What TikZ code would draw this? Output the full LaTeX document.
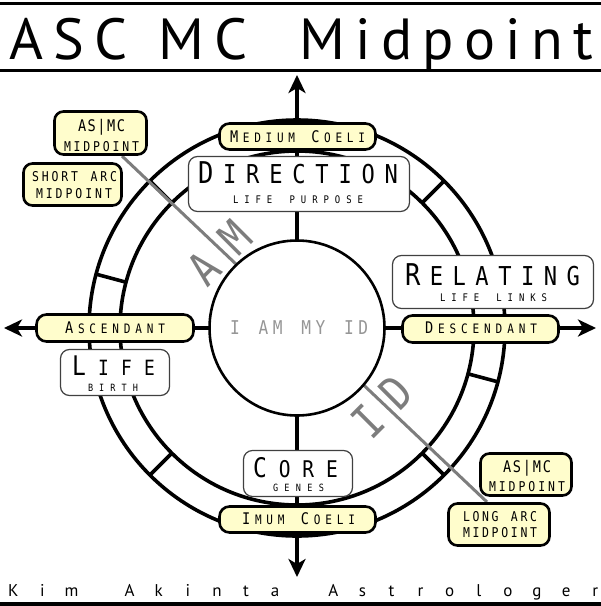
\documentclass[tikz,border=0pt]{standalone}
\usepackage{fontspec}
\usetikzlibrary{arrows.meta}
\newfontfamily\monof[FakeStretch=0.85]{DejaVu Sans Mono}
\newfontfamily\titlefont{PT Sans}
\definecolor{ylw}{RGB}{255,253,204}
\definecolor{gry}{RGB}{125,125,125}
\definecolor{lgry}{RGB}{150,150,150}
\newcommand\fsz[1]{\fontsize{#1}{#1}\selectfont}
\makeatletter
\def\lsp#1{#1\lsp@a}
\def\lsp@a#1{\ifx\relax#1\else\hfil#1\expandafter\lsp@a\fi}
\makeatother
\newcommand\spr[2]{\makebox[#1][s]{\lsp#2\relax}}
\newcommand\fcell[1]{\makebox[29.1pt]{#1}}
\begin{document}
\begin{tikzpicture}[x=1pt,y=-1pt,
  ring/.style={line width=3.6pt},
  axisline/.style={line width=4.6pt, {Stealth[length=18pt,width=17pt,inset=5pt]}-{Stealth[length=18pt,width=17pt,inset=5pt]}},
  ylab/.style={draw=black, line width=2.6pt, fill=ylw, rounded corners=10pt, inner sep=0pt},
  wbox/.style={draw=black!75, line width=1.2pt, fill=white, rounded corners=9pt, inner sep=0pt},
  txt/.style={inner sep=0pt, anchor=base, font=\monof},
  gbig/.style={inner sep=0pt, text=gry, font=\monof\fsz{46}}
]
\path[fill=white] (0,0) rectangle (601,606);
\useasboundingbox (0,0) rectangle (601,606);

% title and footer rules
\coordinate (t1) at (0,3.5); \coordinate (t2) at (601,3.5);
\coordinate (t3) at (0,70); \coordinate (t4) at (601,70);
\coordinate (f1) at (0,603.5); \coordinate (f2) at (601,603.5);
\draw[line width=3pt] (t1) -- (t2);
\draw[line width=3pt] (t3) -- (t4);
\draw[line width=4pt] (f1) -- (f2);
\node[inner sep=0pt, anchor=base west] (title) at (9,59) {\titlefont\fsz{58}\makebox[584pt][s]{A\hfil S\hfil C\hfil\hfil\hfil M\hfil C\hfil\hfil\hfil\hfil\hfil M\hfil i\hfil d\hfil p\hfil o\hfil i\hfil n\hfil t}};
\node[inner sep=0pt, anchor=base west] (foot) at (-1.5,596) {\titlefont\fsz{17}\fcell{K}\fcell{i}\fcell{m}\fcell{}\fcell{A}\fcell{k}\fcell{i}\fcell{n}\fcell{t}\fcell{a}\fcell{}\fcell{A}\fcell{s}\fcell{t}\fcell{r}\fcell{o}\fcell{l}\fcell{o}\fcell{g}\fcell{e}\fcell{r}};

% wheel
\coordinate (C) at (297,328);
\draw[ring] (C) circle[radius=208pt];
\draw[ring] (C) circle[radius=177pt];
\foreach \a in {15,45,135,165,195,225,315,345}
  \draw[ring, shift={(C)}] (\a:177pt) -- (\a:208pt);

% axes
\coordinate (N) at (297,75); \coordinate (S) at (297,577);
\coordinate (W) at (4,328); \coordinate (E) at (596,328);
\draw[axisline] (N) -- (S);
\draw[axisline] (W) -- (E);

% midpoint line
\coordinate (ls) at (122,156); \coordinate (le) at (487,502);
\draw[line width=3pt, gry] (ls) -- (le);

% centre
\draw[line width=2.6pt, fill=white] (C) circle[radius=87.5pt];
\node[txt, text=lgry] (ctr) at (299,334) {\fsz{19}\spr{138pt}{I~AM~MY~ID}};
\node[gbig, rotate=45] (lAM) at (219.5,252.5) {A\hspace{20pt}M};
\node[gbig, rotate=45] (lID) at (382,406.5) {I\hspace{17pt}D};

% yellow labels
\node[ylab, minimum width=156pt, minimum height=26pt] (mc) at (297.5,136.5) {};
\node[txt] (mct) at (297.5,142) {\fsz{13}\spr{135pt}{{{\fsz{16}M}}EDIUM~{{\fsz{16}C}}OELI}};
\node[ylab, minimum width=156pt, minimum height=26pt] (ic) at (297.5,519.5) {};
\node[txt] (ict) at (298.5,524) {\fsz{13}\spr{113pt}{{{\fsz{16}I}}MUM~{{\fsz{16}C}}OELI}};
\node[ylab, minimum width=157pt, minimum height=27pt] (asc) at (115,328) {};
\node[txt] (asct) at (115,333) {\fsz{13}\spr{100pt}{{{\fsz{16}A}}SCENDANT}};
\node[ylab, minimum width=156pt, minimum height=27pt] (dsc) at (480.5,329) {};
\node[txt] (dsct) at (481,333.5) {\fsz{13}\spr{112pt}{{{\fsz{16}D}}ESCENDANT}};

% white boxes
\node[wbox, minimum width=221pt, minimum height=55pt] (dir) at (299,184) {};
\node[txt] (dirt) at (298,183) {\fsz{26}\spr{200pt}{{{\fsz{30}D}}IRECTION}};
\node[txt] (dirs) at (298,203) {\fsz{10.5}\spr{130pt}{LIFE~PURPOSE}};
\node[wbox, minimum width=201pt, minimum height=53pt] (rel) at (493,282) {};
\node[txt] (relt) at (492.5,285) {\fsz{26}\spr{175pt}{{{\fsz{30}R}}ELATING}};
\node[txt] (rels) at (493.5,301) {\fsz{10.5}\spr{107pt}{LIFE~LINKS}};
\node[wbox, minimum width=109pt, minimum height=46pt] (life) at (115,372.5) {};
\node[txt] (lifet) at (113.5,375) {\fsz{21}\spr{83pt}{{{\fsz{27}L}}IFE}};
\node[txt] (lifes) at (113,391) {\fsz{10}\spr{50pt}{BIRTH}};
\node[wbox, minimum width=109pt, minimum height=46pt] (core) at (298,473.5) {};
\node[txt] (coret) at (295.5,477) {\fsz{23}\spr{85pt}{{{\fsz{27}C}}ORE}};
\node[txt] (cores) at (298.5,491) {\fsz{10}\spr{51pt}{GENES}};

% midpoint labels
\node[ylab, rounded corners=9pt, minimum width=92pt, minimum height=43pt] (am1) at (100.5,133) {};
\node[txt] (am1a) at (101.5,131) {\fsz{16}\spr{47pt}{AS|MC}};
\node[txt] (am1b) at (101.5,151) {\fsz{13.5}\spr{75pt}{MIDPOINT}};
\node[ylab, rounded corners=9pt, minimum width=98pt, minimum height=42pt] (sarc) at (72.5,184.5) {};
\node[txt] (sarca) at (74.5,181) {\fsz{13.5}\spr{85pt}{SHORT~ARC}};
\node[txt] (sarcb) at (74,198) {\fsz{13.5}\spr{76pt}{MIDPOINT}};
\node[ylab, rounded corners=9pt, minimum width=91pt, minimum height=42pt] (am2) at (526,474.5) {};
\node[txt] (am2a) at (527,472) {\fsz{16}\spr{48pt}{AS|MC}};
\node[txt] (am2b) at (527,491) {\fsz{13.5}\spr{76pt}{MIDPOINT}};
\node[ylab, rounded corners=9pt, minimum width=101pt, minimum height=42pt] (larc) at (499,524.5) {};
\node[txt] (larca) at (500,521) {\fsz{13.5}\spr{74pt}{LONG~ARC}};
\node[txt] (larcb) at (500,537) {\fsz{13.5}\spr{74pt}{MIDPOINT}};
\end{tikzpicture}
\end{document}
